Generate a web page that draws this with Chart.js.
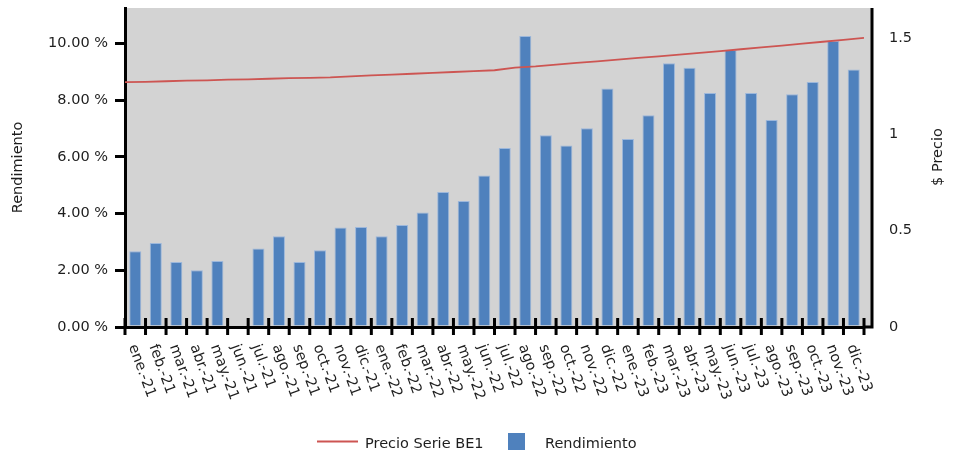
<!DOCTYPE html>
<html>
<head>
<meta charset="utf-8">
<script src="https://cdn.jsdelivr.net/npm/chart.js@4.4.1/dist/chart.umd.min.js"></script>
<style>
  html, body { margin: 0; padding: 0; background: #fff; }
</style>
</head>
<body>
<canvas id="chart" width="953" height="458"></canvas>
<script>
const meses = [
    'ene.-21', 'feb.-21', 'mar.-21', 'abr.-21', 'may.-21', 'jun.-21',
    'jul.-21', 'ago.-21', 'sep.-21', 'oct.-21', 'nov.-21', 'dic.-21',
    'ene.-22', 'feb.-22', 'mar.-22', 'abr.-22', 'may.-22', 'jun.-22',
    'jul.-22', 'ago.-22', 'sep.-22', 'oct.-22', 'nov.-22', 'dic.-22',
    'ene.-23', 'feb.-23', 'mar.-23', 'abr.-23', 'may.-23', 'jun.-23',
    'jul.-23', 'ago.-23', 'sep.-23', 'oct.-23', 'nov.-23', 'dic.-23'
];

// Rendimiento mensual (%)
const rendimiento = [
    2.67, 2.96, 2.29, 2.00, 2.33, 0.00,
    2.77, 3.20, 2.29, 2.71, 3.51, 3.53,
    3.20, 3.60, 4.04, 4.76, 4.44, 5.34,
    6.31, 10.26, 6.76, 6.40, 7.01, 8.41,
    6.63, 7.47, 9.30, 9.14, 8.25, 9.77,
    8.25, 7.30, 8.21, 8.64, 10.09, 9.08
];

const precio = [
    1.270, 1.272, 1.275, 1.278, 1.280, 1.283, 1.285, 1.288, 1.291, 1.293,
    1.295, 1.300, 1.305, 1.309, 1.314, 1.318, 1.323, 1.328, 1.332, 1.346,
    1.352, 1.361, 1.370, 1.378, 1.387, 1.396, 1.404, 1.413, 1.422, 1.431,
    1.441, 1.451, 1.460, 1.470, 1.480, 1.490, 1.500
];

const ticksRendimiento = [0, 2, 4, 6, 8, 10];
const ticksPrecio = [0, 0.5, 1, 1.5];

const COLOR_BARRA = '#4f81bd';
const COLOR_LINEA = '#cd5552';
const COLOR_TEXTO = '#1e1e1e';
const FONDO = '#d3d3d3';
const EXTRA_DER = 8;

Chart.defaults.font.family = '"DejaVu Sans", Verdana, sans-serif';
Chart.defaults.font.size = 14.5;
Chart.defaults.color = COLOR_TEXTO;

// Background, x tick marks, rotated month labels, right title and legend
const decoracion = {
    id: 'decoracion',
    beforeDraw(chart) {
        const { ctx, chartArea: a } = chart;
        ctx.save();
        ctx.fillStyle = FONDO;
        ctx.fillRect(a.left, a.top, a.right - a.left + EXTRA_DER, a.bottom - a.top);
        ctx.restore();
    },
    afterDraw(chart) {
        const { ctx, chartArea: a } = chart;
        const xs = chart.scales.x;
        const paso = xs.getPixelForValue(1) - xs.getPixelForValue(0);

        ctx.save();
        ctx.strokeStyle = '#000';
        ctx.lineWidth = 3;

        // right border and x axis extension
        ctx.beginPath();
        ctx.moveTo(a.right, a.bottom);
        ctx.lineTo(a.right + EXTRA_DER + 1.5, a.bottom);
        ctx.moveTo(a.right + EXTRA_DER, a.top);
        ctx.lineTo(a.right + EXTRA_DER, a.bottom);
        ctx.stroke();

        // tick marks at month boundaries
        ctx.beginPath();
        for (let i = 0; i <= meses.length; i++) {
            const px = i < meses.length
                ? xs.getPixelForValue(i) - paso / 2
                : xs.getPixelForValue(meses.length - 1) + paso / 2;
            ctx.moveTo(px, a.bottom - 9);
            ctx.lineTo(px, a.bottom + 8);
        }
        ctx.stroke();

        // month labels
        ctx.fillStyle = COLOR_TEXTO;
        ctx.font = '14.5px "DejaVu Sans", Verdana, sans-serif';
        ctx.textAlign = 'left';
        ctx.textBaseline = 'middle';
        meses.forEach((m, i) => {
            ctx.save();
            ctx.translate(xs.getPixelForValue(i) - 3, a.bottom + 18);
            ctx.rotate(70 * Math.PI / 180);
            ctx.fillText(m, 0, 0);
            ctx.restore();
        });

        // right axis title
        ctx.save();
        ctx.translate(938, 157);
        ctx.rotate(-Math.PI / 2);
        ctx.textAlign = 'center';
        ctx.fillText('$ Precio', 0, 0);
        ctx.restore();

        // legend
        const dsLinea = chart.data.datasets[0];
        const dsBarra = chart.data.datasets[1];
        ctx.strokeStyle = dsLinea.borderColor;
        ctx.lineWidth = 2;
        ctx.beginPath();
        ctx.moveTo(317, 441.5);
        ctx.lineTo(358, 441.5);
        ctx.stroke();
        ctx.fillText(dsLinea.label, 365, 444);
        ctx.fillStyle = dsBarra.backgroundColor;
        ctx.fillRect(508, 433, 17, 17);
        ctx.fillStyle = COLOR_TEXTO;
        ctx.fillText(dsBarra.label, 545, 444);

        ctx.restore();
    }
};

new Chart(document.getElementById('chart'), {
    data: {
        labels: meses,
        datasets: [
            {
                type: 'line',
                label: 'Precio Serie BE1',
                data: precio.map((v, i) => ({ x: i, y: v })),
                xAxisID: 'xp',
                yAxisID: 'y2',
                borderColor: COLOR_LINEA,
                borderWidth: 1.8,
                pointRadius: 0,
                tension: 0,
                order: 0
            },
            {
                type: 'bar',
                label: 'Rendimiento',
                data: rendimiento,
                xAxisID: 'x',
                yAxisID: 'y',
                backgroundColor: COLOR_BARRA,
                borderColor: 'rgba(150, 180, 220, 0.9)',
                borderWidth: 1,
                grouped: false,
                barPercentage: 0.585,
                categoryPercentage: 1,
                order: 1
            }
        ]
    },
    options: {
        responsive: false,
        animation: false,
        layout: { padding: { top: 8 } },
        plugins: {
            legend: { display: false },
            tooltip: { enabled: false }
        },
        scales: {
            x: {
                type: 'category',
                offset: true,
                grid: { display: false },
                border: { display: true, color: '#000', width: 3 },
                ticks: { display: false },
                afterFit: s => { s.height = 131; }
            },
            xp: {
                type: 'linear',
                display: false,
                min: 0,
                max: meses.length
            },
            y: {
                position: 'left',
                min: 0,
                max: 11.25,
                afterBuildTicks: s => { s.ticks = ticksRendimiento.map(v => ({ value: v })); },
                ticks: {
                    padding: 7,
                    callback: v => v.toFixed(2) + ' %'
                },
                grid: {
                    drawOnChartArea: false,
                    drawTicks: true,
                    tickLength: 10,
                    lineWidth: 3,
                    color: '#000'
                },
                border: { display: true, color: '#000', width: 3 },
                title: {
                    display: true,
                    text: 'Rendimiento',
                    padding: { top: 10, bottom: 0 }
                },
                afterFit: s => { s.width = 125; s.paddingTop = 0; s.paddingBottom = 0; }
            },
            y2: {
                position: 'right',
                min: 0,
                max: 1.655,
                afterBuildTicks: s => { s.ticks = ticksPrecio.map(v => ({ value: v })); },
                ticks: {
                    padding: 25,
                    callback: v => String(v)
                },
                grid: { display: false, drawTicks: false },
                border: { display: false },
                afterFit: s => { s.width = 89; s.paddingTop = 0; s.paddingBottom = 0; }
            }
        }
    },
    plugins: [decoracion]
});
</script>
</body>
</html>
